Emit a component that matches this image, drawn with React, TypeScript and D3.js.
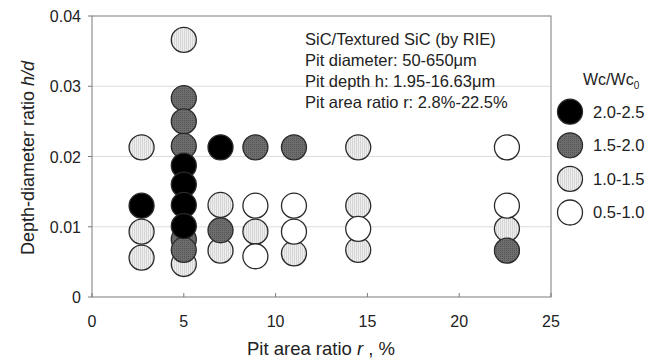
import React from "react";
import * as d3 from "d3";

const categories = ["2.0-2.5", "1.5-2.0", "1.0-1.5", "0.5-1.0"];
const catFill = ["#000000", "url(#dotGray)", "url(#hatchLight)", "#ffffff"];

// pit area ratio r (%)
const ratioR = [
  2.7, 2.7, 2.7, 5, 5, 7, 7, 8.9, 11, 14.5, 14.5, 14.5, 22.6,
  8.9, 8.9, 11, 11, 14.5, 22.6, 22.6,
  5, 5, 5, 5, 5, 7, 8.9, 11, 22.6,
  2.7, 5, 5, 5, 5, 7,
];
// depth-diameter ratio h/d
const hd = [
  0.0213, 0.0093, 0.0056, 0.0366, 0.0047, 0.0131, 0.0066, 0.0093, 0.0062, 0.0213, 0.013, 0.0067, 0.0097,
  0.013, 0.0058, 0.013, 0.0093, 0.0097, 0.0213, 0.013,
  0.0283, 0.025, 0.0215, 0.0082, 0.0067, 0.0095, 0.0213, 0.0213, 0.0066,
  0.013, 0.0187, 0.016, 0.0131, 0.0101, 0.0213,
];
// category index into categories
const group = [
  2, 2, 2, 2, 2, 2, 2, 2, 2, 2, 2, 2, 2,
  3, 3, 3, 3, 3, 3, 3,
  1, 1, 1, 1, 1, 1, 1, 1, 1,
  0, 0, 0, 0, 0, 0,
];

const xTicks = [0, 5, 10, 15, 20, 25];
const yTicks = [0, 0.01, 0.02, 0.03, 0.04];
const noteLines = [
  "SiC/Textured SiC (by RIE)",
  "Pit diameter: 50-650\u03bcm",
  "Pit depth h: 1.95-16.63\u03bcm",
  "Pit area ratio r: 2.8%-22.5%",
];

const W = 665, H = 358;
const L = 92, R = 551, T = 16, B = 297;
const FONT = "'Liberation Sans', Arial, sans-serif";

export default function App() {
  const x = d3.scaleLinear().domain([0, 25]).range([L, R]);
  const y = d3.scaleLinear().domain([0, 0.04]).range([B, T]);
  const rad = 12.5;
  const stroke = "#2a2a2a";

  return (
    <svg width={W} height={H} style={{ position: "absolute", left: 0, top: 0, background: "#fff" }} fontFamily={FONT}>
      <defs>
        <pattern id="hatchLight" width="2" height="4" patternUnits="userSpaceOnUse">
          <rect width="2" height="4" fill="#eeeeee" />
          <rect width="1" height="4" fill="#d6d6d6" />
        </pattern>
        <pattern id="dotGray" width="2" height="2" patternUnits="userSpaceOnUse">
          <rect width="2" height="2" fill="#6e6e6e" />
          <rect width="1" height="1" fill="#545454" />
        </pattern>
      </defs>
      <rect x={0} y={0} width={W} height={H} fill="#fff" />
      {/* grid */}
      {yTicks.filter((t) => t > 0 && t < 0.04).map((t) => (
        <line key={"g" + t} x1={L} x2={R} y1={y(t)} y2={y(t)} stroke="#dcdcdc" strokeWidth={1} />
      ))}
      {/* frame */}
      <rect x={L} y={T} width={R - L} height={B - T} fill="none" stroke="#7a7a7a" strokeWidth={1} />
      {/* ticks */}
      {xTicks.map((t) => (
        <g key={"xt" + t}>
          <line x1={x(t)} x2={x(t)} y1={B} y2={B - 4} stroke="#7a7a7a" />
          <text x={x(t)} y={B + 30} textAnchor="middle" fontSize={16} fill="#222">{t}</text>
        </g>
      ))}
      {yTicks.map((t) => (
        <g key={"yt" + t}>
          <line x1={L - 4} x2={L} y1={y(t)} y2={y(t)} stroke="#7a7a7a" />
          <text x={81} y={y(t) + 6} textAnchor="end" fontSize={16} fill="#222">{t === 0 ? "0" : t.toFixed(2)}</text>
        </g>
      ))}
      {/* axis titles */}
      <text x={321} y={355} textAnchor="middle" fontSize={18.5} fill="#222">
        Pit area ratio <tspan fontStyle="italic">r</tspan> , %
      </text>
      <text transform={`translate(34,158) rotate(-90)`} textAnchor="middle" fontSize={18} fill="#222">
        Depth-diameter ratio <tspan fontStyle="italic">h/d</tspan>
      </text>
      {/* note */}
      {noteLines.map((s, i) => (
        <text key={"n" + i} x={305} y={45 + i * 21} fontSize={16.5} fill="#222">{s}</text>
      ))}
      {/* points */}
      {ratioR.map((r, i) => (
        <circle key={"p" + i} cx={x(r)} cy={y(hd[i])} r={rad} fill={catFill[group[i]]} stroke={stroke} strokeWidth={1.3} />
      ))}
      {/* legend */}
      <text x={583} y={85} fontSize={16} fill="#222">
        Wc/Wc<tspan fontSize={10} dy={4}>0</tspan>
      </text>
      {categories.map((c, i) => (
        <g key={"l" + c}>
          <circle cx={570} cy={111.7 + i * 33.6} r={rad} fill={catFill[i]} stroke={stroke} strokeWidth={1.3} />
          <text x={593} y={117.5 + i * 33.6} fontSize={16.5} fill="#222">{c}</text>
        </g>
      ))}
    </svg>
  );
}
